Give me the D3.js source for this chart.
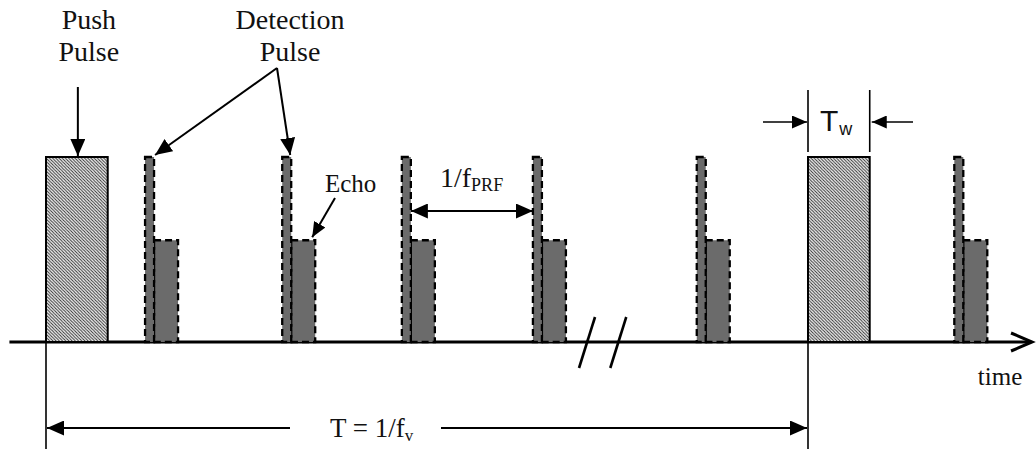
<!DOCTYPE html>
<html>
<head>
<meta charset="utf-8">
<script src="https://cdn.jsdelivr.net/npm/d3@7"></script>
<style>
  html, body { margin: 0; padding: 0; background: #fff; }
  svg { display: block; }
  .serif { font-family: "Liberation Serif", "Times New Roman", serif; fill: #111; }
  .sans { font-family: "Liberation Sans", Arial, sans-serif; fill: #111; }
</style>
</head>
<body>
<svg id="chart" width="1036" height="449"></svg>
<script>
// Pulse timing (arbitrary time units; one vibration period T = 100)
const period = 100;
const pushStarts = [0, 100];
const pushWidth = 8.1;
const detectStarts = [13.0, 31.0, 46.7, 63.9, 85.4, 119.2];
const detectWidth = 1.18;
const echoWidth = 3.15;
const pulseLevel = 1.0;
const echoLevel = 0.55;
const axisExtent = [-4.8, 129.4];
const breakTimes = [71.0, 75.1];

// Text labels
const pushLabel = ["Push", "Pulse"];
const detectLabel = ["Detection", "Pulse"];
const echoLabel = "Echo";
const prfLabel = ["1/f", "PRF"];
const twLabel = ["T", "w"];
const periodLabel = ["T = 1/f", "v"];
const axisLabel = "time";

const svg = d3.select("#chart");

const x = d3.scaleLinear().domain([0, period]).range([46, 808]);
const y = d3.scaleLinear().domain([0, 1]).range([342, 157]);

const defs = svg.append("defs");

// fine diagonal hatch for push pulses
const hatch = defs.append("pattern")
  .attr("id", "hatch")
  .attr("patternUnits", "userSpaceOnUse")
  .attr("width", 3.2).attr("height", 3.2);
hatch.append("rect").attr("width", 3.2).attr("height", 3.2).attr("fill", "#f2f2f2");
hatch.append("path")
  .attr("d", "M-1,-1 L4.2,4.2 M-1,2.2 L1,4.2 M2.2,-1 L4.2,1")
  .attr("stroke", "#2a2a2a").attr("stroke-width", 0.95);

// solid triangular arrowheads
function marker(id, w, h) {
  defs.append("marker")
    .attr("id", id)
    .attr("viewBox", `0 0 ${w} ${h}`)
    .attr("refX", w).attr("refY", h / 2)
    .attr("markerWidth", w).attr("markerHeight", h)
    .attr("markerUnits", "userSpaceOnUse")
    .attr("orient", "auto-start-reverse")
    .append("path")
    .attr("d", `M0,0 L${w},${h / 2} L0,${h} Z`)
    .attr("fill", "#000");
}
marker("arrow", 17, 15);
marker("arrowSmall", 15, 13);

const y0 = y(0);

// ---- time axis ----
svg.append("line")
  .attr("x1", x(axisExtent[0])).attr("x2", x(axisExtent[1]) - 2)
  .attr("y1", y0).attr("y2", y0)
  .attr("stroke", "#000").attr("stroke-width", 3);
// open arrowhead at the end of the axis
svg.append("path")
  .attr("d", `M${x(axisExtent[1]) - 21},${y0 - 9} L${x(axisExtent[1])},${y0} L${x(axisExtent[1]) - 21},${y0 + 9}`)
  .attr("fill", "none").attr("stroke", "#000").attr("stroke-width", 3)
  .attr("stroke-linejoin", "miter");
// axis break marks
svg.selectAll(".brk").data(breakTimes).join("line")
  .attr("class", "brk")
  .attr("x1", d => x(d) - 8).attr("y1", y0 + 26)
  .attr("x2", d => x(d) + 8).attr("y2", y0 - 25)
  .attr("stroke", "#000").attr("stroke-width", 2.6);

svg.append("text").attr("class", "serif")
  .attr("x", x(axisExtent[1]) - 32).attr("y", 385)
  .attr("text-anchor", "middle").attr("font-size", 25)
  .text(axisLabel);

// ---- push pulses ----
svg.selectAll(".push").data(pushStarts).join("rect")
  .attr("class", "push")
  .attr("x", d => x(d)).attr("width", x(pushWidth) - x(0))
  .attr("y", y(pulseLevel)).attr("height", y0 - y(pulseLevel))
  .attr("fill", "url(#hatch)")
  .attr("stroke", "#000").attr("stroke-width", 2);

// ---- echoes ----
svg.selectAll(".echo").data(detectStarts).join("rect")
  .attr("class", "echo")
  .attr("x", d => x(d + detectWidth)).attr("width", x(echoWidth) - x(0))
  .attr("y", y(echoLevel)).attr("height", y0 - y(echoLevel))
  .attr("fill", "#6b6b6b")
  .attr("stroke", "#000").attr("stroke-width", 2.3)
  .attr("stroke-dasharray", "7,4");

// ---- detection pulses ----
svg.selectAll(".det").data(detectStarts).join("rect")
  .attr("class", "det")
  .attr("x", d => x(d)).attr("width", x(detectWidth) - x(0))
  .attr("y", y(pulseLevel)).attr("height", y0 - y(pulseLevel))
  .attr("fill", "#6b6b6b")
  .attr("stroke", "#000").attr("stroke-width", 2.3)
  .attr("stroke-dasharray", "7,4");

// ---- push pulse label and arrow ----
const pushCx = x(pushStarts[0] + pushWidth / 2) + 1;
svg.append("text").attr("class", "serif")
  .attr("text-anchor", "middle").attr("font-size", 28)
  .selectAll("tspan").data(pushLabel).join("tspan")
  .attr("x", pushCx + 11).attr("y", (d, i) => 29 + i * 32)
  .text(d => d);
svg.append("line")
  .attr("x1", pushCx).attr("x2", pushCx)
  .attr("y1", 87).attr("y2", y(pulseLevel) - 1)
  .attr("stroke", "#000").attr("stroke-width", 2)
  .attr("marker-end", "url(#arrow)");

// ---- detection pulse label and arrows ----
const apex = [277, 68];
svg.append("text").attr("class", "serif")
  .attr("text-anchor", "middle").attr("font-size", 28)
  .selectAll("tspan").data(detectLabel).join("tspan")
  .attr("x", 290).attr("y", (d, i) => 29 + i * 32)
  .text(d => d);
[detectStarts[0], detectStarts[1]].forEach((t, i) => {
  svg.append("line")
    .attr("x1", apex[0]).attr("y1", apex[1])
    .attr("x2", x(t + detectWidth) + (i === 0 ? 1 : -1)).attr("y2", y(pulseLevel) - 2)
    .attr("stroke", "#000").attr("stroke-width", 2)
    .attr("marker-end", "url(#arrow)");
});

// ---- echo label and arrow ----
svg.append("text").attr("class", "serif")
  .attr("x", 325).attr("y", 192).attr("font-size", 25)
  .text(echoLabel);
svg.append("line")
  .attr("x1", 335).attr("y1", 198)
  .attr("x2", x(detectStarts[1] + detectWidth + echoWidth) - 3).attr("y2", y(echoLevel) - 3)
  .attr("stroke", "#000").attr("stroke-width", 2)
  .attr("marker-end", "url(#arrowSmall)");

// ---- pulse repetition interval ----
const prfY = 211;
svg.append("line")
  .attr("x1", x(detectStarts[2] + detectWidth)).attr("x2", x(detectStarts[3]))
  .attr("y1", prfY).attr("y2", prfY)
  .attr("stroke", "#000").attr("stroke-width", 2)
  .attr("marker-start", "url(#arrow)").attr("marker-end", "url(#arrow)");
const prfText = svg.append("text").attr("class", "serif")
  .attr("x", 440).attr("y", 187).attr("font-size", 28);
prfText.append("tspan").text(prfLabel[0]);
prfText.append("tspan").attr("font-size", 18).attr("dy", 4).text(prfLabel[1]);

// ---- push width Tw ----
const twL = x(pushStarts[1]), twR = x(pushStarts[1] + pushWidth);
[twL, twR].forEach(px => {
  svg.append("line")
    .attr("x1", px).attr("x2", px).attr("y1", 90).attr("y2", 152)
    .attr("stroke", "#000").attr("stroke-width", 1.6);
});
svg.append("line")
  .attr("x1", 763).attr("x2", twL - 1).attr("y1", 122).attr("y2", 122)
  .attr("stroke", "#000").attr("stroke-width", 1.6)
  .attr("marker-end", "url(#arrowSmall)");
svg.append("line")
  .attr("x1", 913).attr("x2", twR + 2).attr("y1", 122).attr("y2", 122)
  .attr("stroke", "#000").attr("stroke-width", 1.6)
  .attr("marker-end", "url(#arrowSmall)");
const twText = svg.append("text").attr("class", "sans")
  .attr("x", 820).attr("y", 131).attr("font-size", 30);
twText.append("tspan").text(twLabel[0]);
twText.append("tspan").attr("font-size", 18).attr("dx", 1).attr("dy", 4).text(twLabel[1]);

// ---- vibration period T ----
const perY = 428;
[x(0), x(period)].forEach(px => {
  svg.append("line")
    .attr("x1", px).attr("x2", px).attr("y1", y0).attr("y2", 449)
    .attr("stroke", "#000").attr("stroke-width", 1.6);
});
svg.append("line")
  .attr("x1", 290).attr("x2", x(0) + 1).attr("y1", perY).attr("y2", perY)
  .attr("stroke", "#000").attr("stroke-width", 2)
  .attr("marker-end", "url(#arrow)");
svg.append("line")
  .attr("x1", 441).attr("x2", x(period) - 1).attr("y1", perY).attr("y2", perY)
  .attr("stroke", "#000").attr("stroke-width", 2)
  .attr("marker-end", "url(#arrow)");
const perText = svg.append("text").attr("class", "serif")
  .attr("x", 330).attr("y", 437).attr("font-size", 27);
perText.append("tspan").text(periodLabel[0]);
perText.append("tspan").attr("font-size", 17).attr("dy", 4).text(periodLabel[1]);
</script>
</body>
</html>
